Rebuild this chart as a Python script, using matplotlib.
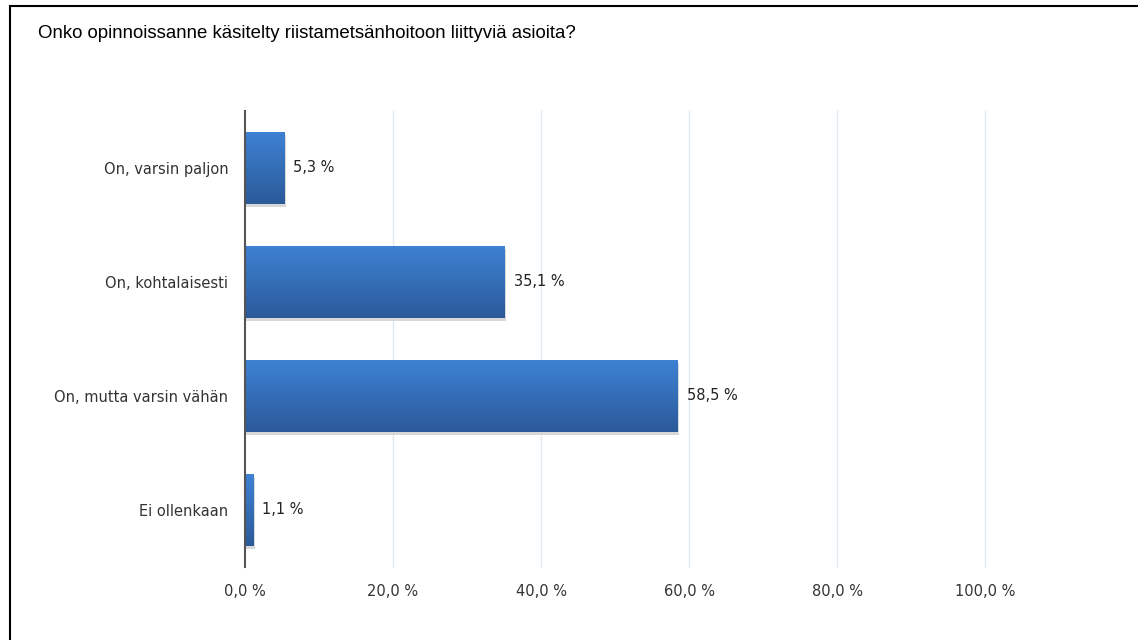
import matplotlib.pyplot as plt
import matplotlib.patches as mpatches
from matplotlib.colors import LinearSegmentedColormap
import numpy as np

# Survey answers and shares (%)
categories = ["On, varsin paljon", "On, kohtalaisesti", "On, mutta varsin vähän", "Ei ollenkaan"]
values = [5.3, 35.1, 58.5, 1.1]
value_labels = ["5,3 %", "35,1 %", "58,5 %", "1,1 %"]
xticks = [0, 20, 40, 60, 80, 100]
xtick_labels = ["0,0 %", "20,0 %", "40,0 %", "60,0 %", "80,0 %", "100,0 %"]
title = "Onko opinnoissanne käsitelty riistametsänhoitoon liittyviä asioita?"

W, H = 1138, 640
fig = plt.figure(figsize=(W / 100, H / 100), dpi=100)
fig.patch.set_facecolor("white")

# frame around the chart (cropped at right and bottom)
fig.add_artist(mpatches.Rectangle((9.5 / W, -0.1), 1.2, 1 - 6 / H + 0.1,
                                  transform=fig.transFigure, fill=False,
                                  edgecolor="black", linewidth=1.5))

fig.text(38 / W, 1 - 33 / H, title, fontsize=13.4, family="Liberation Sans",
         color="black", va="center", ha="left")

ax = fig.add_axes([245 / W, 1 - 567 / H, 740 / W, 456 / H])
ypos = np.arange(len(categories))
bars = ax.barh(ypos, values, height=0.635, color="none", zorder=3)

# vertical gradient fill per bar (light on top), plus a small drop shadow
grad = np.linspace(0, 1, 64).reshape(-1, 1)
cmap = LinearSegmentedColormap.from_list("bar", ["#3e82d4", "#2b5a9a"])
for b in bars:
    x0, y0 = b.get_x(), b.get_y()
    w, h = b.get_width(), b.get_height()
    shadow = mpatches.Rectangle((x0 + 0.2, y0 + 0.025), w, h, facecolor="#cfcfcf",
                                edgecolor="none", zorder=2, alpha=0.8)
    ax.add_patch(shadow)
    im = ax.imshow(grad, extent=(x0, x0 + w, y0, y0 + h), cmap=cmap,
                   aspect="auto", origin="lower", zorder=3)
    im.set_clip_path(b)

for y, v, lab in zip(ypos, values, value_labels):
    ax.text(v + 1.2, y, lab, va="center", ha="left", fontsize=10.5, color="#222222")

ax.set_xlim(0, 100)
ax.set_ylim(len(categories) - 0.5, -0.5)
ax.set_yticks(ypos)
ax.set_yticklabels(categories, fontsize=10.5, color="#333333")
ax.set_xticks(xticks)
ax.set_xticklabels(xtick_labels, fontsize=10.5, color="#333333")
ax.tick_params(axis="both", length=0)
ax.tick_params(axis="y", pad=12)
ax.tick_params(axis="x", pad=12)

for x in xticks[1:]:
    ax.axvline(x, color="#dfe7f1", linewidth=1, zorder=1, clip_on=False)

for s in ["top", "right", "bottom"]:
    ax.spines[s].set_visible(False)
ax.spines["left"].set_color("#555555")
ax.spines["left"].set_linewidth(1.5)
ax.spines["left"].set_zorder(5)

fig.savefig("out.png", dpi=100)
